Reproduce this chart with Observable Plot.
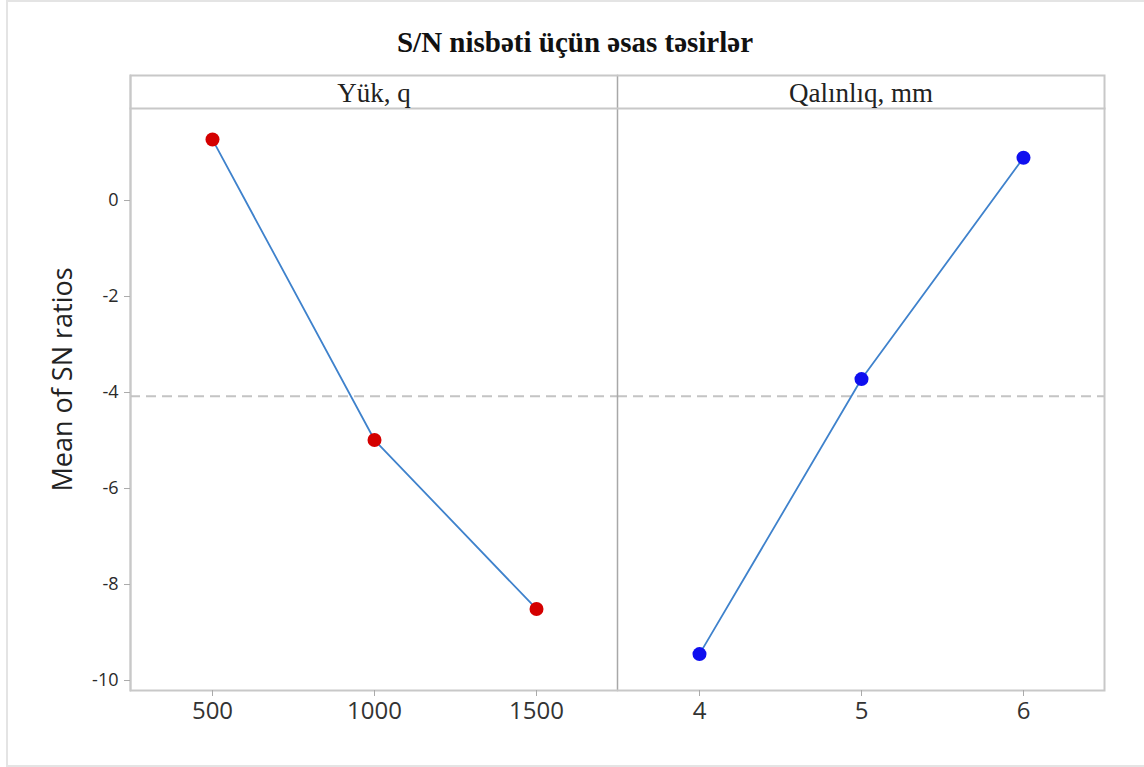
<!DOCTYPE html>
<html>
<head>
<meta charset="utf-8">
<script src="https://cdn.jsdelivr.net/npm/d3@7"></script>
<script src="https://cdn.jsdelivr.net/npm/@observablehq/plot@0.6"></script>
<style>
  html, body { margin: 0; padding: 0; background: #fff; }
  #page { position: relative; width: 1144px; height: 767px; overflow: hidden; background: #fff; }
  #border { position: absolute; left: 6px; top: 0; width: 1140px; height: 767px; box-sizing: border-box;
            border-left: 2px solid #e4e4e4; border-top: 2px solid #e4e4e4; border-bottom: 2px solid #e4e4e4; }
  #title { position: absolute; left: 6px; width: 1138px; top: 26px; line-height: 32px; text-align: center;
           font-family: "Liberation Serif", "Times New Roman", serif; font-weight: bold; font-size: 29px; color: #111; }
  #chart { position: absolute; left: 0; top: 0; }
</style>
</head>
<body>
<div id="page">
  <div id="border"></div>
  <div id="chart"></div>
  <div id="title"></div>
</div>
<script>
const titleText = "S/N nisbəti üçün əsas təsirlər";
const yLabel = "Mean of SN ratios";
const panels = ["Yük, q", "Qalınlıq, mm"];
const yukLevels = ["500", "1000", "1500"];
const yukSN = [1.27, -4.99, -8.51];
const qalLevels = ["4", "5", "6"];
const qalSN = [-9.45, -3.72, 0.89];
const meanSN = -4.08;
const yTicks = [0, -2, -4, -6, -8, -10];
const pointColors = ["#d40000", "#0f0fef"];

document.getElementById("title").textContent = titleText;

const rows = [
  ...yukLevels.map((l, i) => ({panel: panels[0], level: l, idx: i, value: yukSN[i]})),
  ...qalLevels.map((l, i) => ({panel: panels[1], level: l, idx: i, value: qalSN[i]}))
];

const chart = Plot.plot({
  width: 1144,
  height: 767,
  marginTop: 108,
  marginBottom: 77,
  marginLeft: 130,
  marginRight: 40,
  style: {fontFamily: "'Open Sans', 'Noto Sans', sans-serif", background: "transparent"},
  fx: {domain: panels, padding: 0, axis: null},
  x: {type: "point", domain: [0, 1, 2], padding: 0.5, axis: null},
  y: {domain: [-10.208, 1.917], axis: null},
  color: {domain: panels, range: pointColors},
  marks: [
    Plot.ruleY([meanSN], {stroke: "#c4c4c4", strokeWidth: 2, strokeDasharray: "10,6"}),
    Plot.frame({anchor: "left", insetTop: -33, stroke: "#a8a8a8", strokeWidth: 1.5}),
    Plot.frame({facet: "super", insetTop: -33, stroke: "#c8c8c8", strokeWidth: 2}),
    Plot.frame({facet: "super", anchor: "top", stroke: "#c8c8c8", strokeWidth: 2}),
    Plot.axisFx({anchor: "top", label: null, tickSize: 0, tickPadding: 7, fontSize: 27,
                 fontFamily: "'Liberation Serif', 'Times New Roman', serif", fill: "#222"}),
    Plot.axisY({ticks: yTicks, label: null, tickSize: 6, tickPadding: 6, fontSize: 18,
                tickFormat: d => String(d), stroke: "#aaa", fill: "#2a2a2a"}),
    Plot.axisX({ticks: [0, 1, 2], label: null, tickSize: 6, tickFormat: () => "", stroke: "#aaa"}),
    Plot.text(rows, {fx: "panel", x: "idx", text: "level", frameAnchor: "bottom", dy: 28,
                     fontSize: 24, fill: "#333"}),
    Plot.line(rows, {fx: "panel", x: "idx", y: "value", stroke: "#3f82cc", strokeWidth: 1.8}),
    Plot.dot(rows, {fx: "panel", x: "idx", y: "value", r: 7, fill: "panel", stroke: "none"}),
    Plot.text([yLabel], {facet: "super", frameAnchor: "left", rotate: -90, dx: -67, dy: 92,
                         fontSize: 27, fill: "#222"})
  ]
});
document.getElementById("chart").appendChild(chart);
</script>
</body>
</html>
